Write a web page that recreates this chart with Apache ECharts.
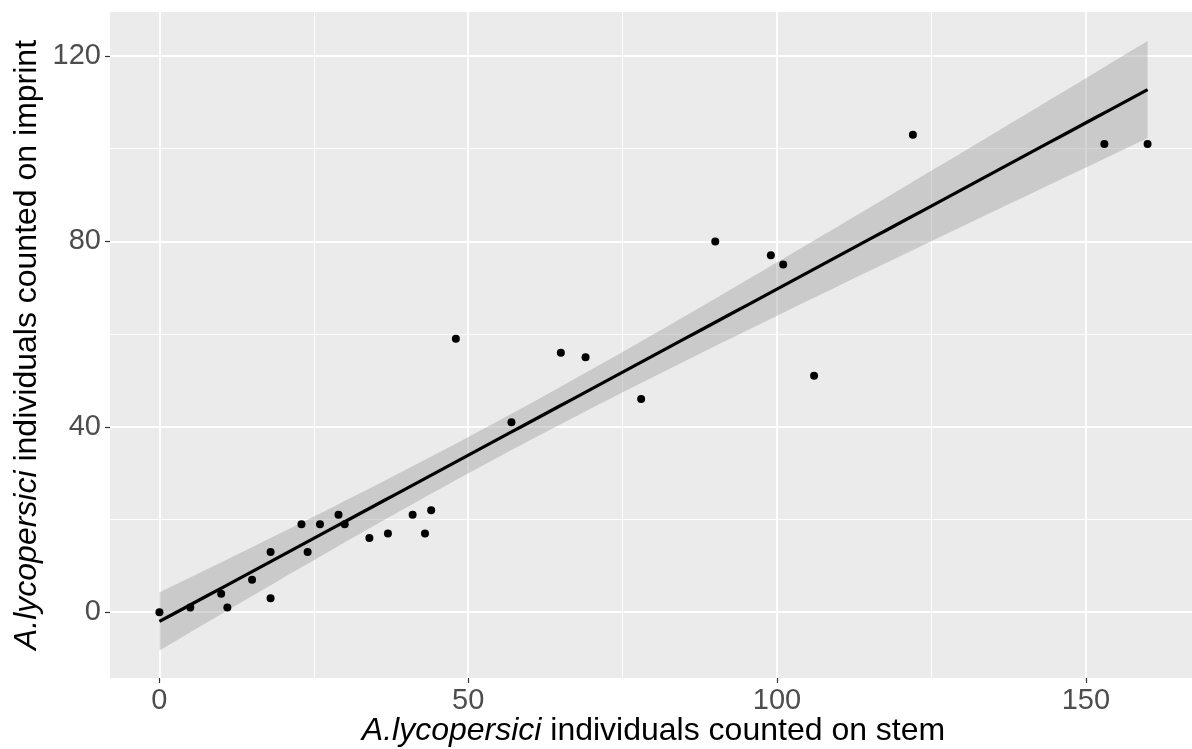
<!DOCTYPE html>
<html>
<head>
<meta charset="utf-8">
<script src="https://cdn.jsdelivr.net/npm/echarts@6/dist/echarts.min.js"></script>
<style>
html,body{margin:0;padding:0;background:#fff;}
#chart{width:1192px;height:749px;}
</style>
</head>
<body>
<div id="chart"></div>
<script>
// Data
const stemCounts = [0, 5, 10, 11, 15, 18, 18, 23, 24, 26, 29, 30, 34, 37, 41, 43, 44,
                    48, 57, 65, 69, 78, 106, 90, 99, 101, 122, 153, 160];
const imprintCounts = [0, 1, 4, 1, 7, 13, 3, 19, 13, 19, 21, 19, 16, 17, 21, 17, 22,
                       59, 41, 56, 55, 46, 51, 80, 77, 75, 103, 101, 101];
const xMajorTicks = [0, 50, 100, 150];
const xMinorTicks = [25, 75, 125];
const yMajorTicks = [0, 40, 80, 120];
const yMinorTicks = [20, 60, 100];
const xTitle = '{i|A.lycopersici} individuals counted on stem';
const yTitle = '{i|A.lycopersici} individuals counted on imprint';

// Linear model fit with 95% confidence band (as geom_smooth(method = "lm"))
const n = stemCounts.length;
const mx = stemCounts.reduce((a, b) => a + b, 0) / n;
const my = imprintCounts.reduce((a, b) => a + b, 0) / n;
let sxx = 0, sxy = 0;
for (let i = 0; i < n; i++) {
  sxx += (stemCounts[i] - mx) ** 2;
  sxy += (stemCounts[i] - mx) * (imprintCounts[i] - my);
}
const slope = sxy / sxx;
const intercept = my - slope * mx;
let rss = 0;
for (let i = 0; i < n; i++) {
  const r = imprintCounts[i] - (intercept + slope * stemCounts[i]);
  rss += r * r;
}
const sigma = Math.sqrt(rss / (n - 2));
const tq = 2.052; // t quantile 0.975, df = 27
const xmin = Math.min(...stemCounts), xmax = Math.max(...stemCounts);
const band = [];
const steps = 80;
for (let k = 0; k < steps; k++) {
  const x = xmin + (xmax - xmin) * k / (steps - 1);
  const yh = intercept + slope * x;
  const se = sigma * Math.sqrt(1 / n + (x - mx) ** 2 / sxx);
  band.push([x, yh, yh - tq * se, yh + tq * se]);
}

const points = stemCounts.map((x, i) => [x, imprintCounts[i]]);
const fitLine = band.map(b => [b[0], b[1]]);

const XMIN = -8, XMAX = 168, YMIN = -14.2, YMAX = 129.5;
const labelColor = '#4D4D4D';
const fontFam = '"Liberation Sans", Arial, sans-serif';

const chart = echarts.init(document.getElementById('chart'), null, {renderer: 'canvas'});
chart.setOption({
  animation: false,
  backgroundColor: '#ffffff',
  grid: {
    left: 110, top: 12, width: 1087, height: 666,
    outerBoundsMode: 'none', containLabel: false,
    show: true, backgroundColor: '#EBEBEB', borderWidth: 0
  },
  xAxis: [{
    type: 'value', min: XMIN, max: XMAX,
    name: xTitle, nameLocation: 'middle', nameGap: 37, nameMoveOverlap: false,
    nameTextStyle: {
      color: '#000', fontSize: 32, fontFamily: fontFam,
      rich: {i: {fontStyle: 'italic', fontSize: 32, color: '#000', fontFamily: fontFam}}
    },
    axisLine: {show: false, onZero: false},
    axisTick: {show: true, length: 5, customValues: xMajorTicks, lineStyle: {color: '#333333', width: 1.2}},
    axisLabel: {show: true, customValues: xMajorTicks, color: labelColor, fontSize: 29, fontFamily: fontFam, margin: 8},
    splitLine: {show: true, lineStyle: {color: '#ffffff', width: 1.8}}
  }, {
    type: 'value', min: XMIN, max: XMAX, position: 'bottom',
    axisLine: {show: false, onZero: false},
    axisTick: {show: false, customValues: xMinorTicks},
    axisLabel: {show: false, customValues: xMinorTicks},
    splitLine: {show: true, lineStyle: {color: '#ffffff', width: 0.9}}
  }],
  yAxis: [{
    type: 'value', min: YMIN, max: YMAX,
    name: yTitle, nameLocation: 'middle', nameGap: 67, nameRotate: 90, nameMoveOverlap: false,
    nameTextStyle: {
      color: '#000', fontSize: 32, fontFamily: fontFam,
      rich: {i: {fontStyle: 'italic', fontSize: 32, color: '#000', fontFamily: fontFam}}
    },
    axisLine: {show: false, onZero: false},
    axisTick: {show: true, length: 5, customValues: yMajorTicks, lineStyle: {color: '#333333', width: 1.2}},
    axisLabel: {show: true, customValues: yMajorTicks, color: labelColor, fontSize: 29, fontFamily: fontFam, margin: 9},
    splitLine: {show: true, lineStyle: {color: '#ffffff', width: 1.8}}
  }, {
    type: 'value', min: YMIN, max: YMAX, position: 'left',
    axisLine: {show: false, onZero: false},
    axisTick: {show: false, customValues: yMinorTicks},
    axisLabel: {show: false, customValues: yMinorTicks},
    splitLine: {show: true, lineStyle: {color: '#ffffff', width: 0.9}}
  }],
  series: [{
    type: 'custom',
    xAxisIndex: 0, yAxisIndex: 0,
    data: [0],
    clip: true,
    silent: true,
    z: 2,
    renderItem: function (params, api) {
      const pts = [];
      for (let k = 0; k < band.length; k++) pts.push(api.coord([band[k][0], band[k][3]]));
      for (let k = band.length - 1; k >= 0; k--) pts.push(api.coord([band[k][0], band[k][2]]));
      return {
        type: 'polygon',
        shape: {points: pts},
        style: {fill: '#999999', opacity: 0.4}
      };
    }
  }, {
    type: 'scatter',
    xAxisIndex: 0, yAxisIndex: 0,
    data: points,
    symbol: 'circle',
    symbolSize: 8,
    itemStyle: {color: '#000000', opacity: 1},
    z: 3
  }, {
    type: 'line',
    xAxisIndex: 0, yAxisIndex: 0,
    data: fitLine,
    showSymbol: false,
    lineStyle: {color: '#000000', width: 3.2},
    z: 4
  }]
});
</script>
</body>
</html>
